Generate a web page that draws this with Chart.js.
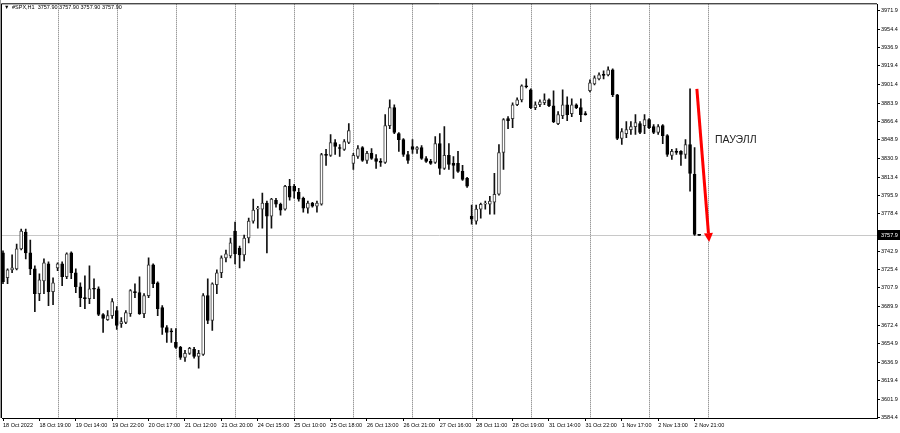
<!DOCTYPE html>
<html>
<head>
<meta charset="utf-8">
<script src="https://cdn.jsdelivr.net/npm/chart.js@4"></script>
<style>
  html, body { margin: 0; padding: 0; background: #fff; }
</style>
</head>
<body>
<canvas id="myChart" width="900" height="433"></canvas>
<script>
// #SPX H1 candles, 18 Oct 11:00 .. 2 Nov 22:00
const symbol = '#SPX,H1'
const lastPrice = 3757.9

const opens = [
  3741.2, 3717.5, 3725.1, 3726.0, 3745.0, 3761.1, 3741.2, 3726.0, 3702.4, 3714.6,
  3730.8, 3704.2, 3727.0, 3730.8, 3718.5, 3741.2, 3722.3, 3709.0, 3698.6, 3697.6,
  3707.1, 3707.1, 3682.5, 3677.7, 3681.5, 3686.2, 3673.9, 3674.9, 3683.4, 3704.2,
  3703.3, 3683.4, 3700.5, 3729.8, 3712.8, 3689.1, 3670.1, 3666.4, 3655.9, 3651.2,
  3641.7, 3645.5, 3649.3, 3642.6, 3644.5, 3700.5, 3676.8, 3710.9, 3722.3, 3736.5,
  3738.4, 3762.1, 3745.9, 3739.3, 3755.4, 3771.5, 3782.9, 3782.9, 3788.6, 3776.3,
  3791.4, 3787.6, 3782.9, 3804.7, 3804.7, 3799.0, 3793.3, 3783.8, 3788.6, 3785.7,
  3787.6, 3835.0, 3834.1, 3846.4, 3841.6, 3839.8, 3846.4, 3826.5, 3833.1, 3841.6,
  3829.3, 3836.0, 3831.2, 3828.4, 3827.4, 3862.5, 3879.6, 3854.9, 3849.2, 3835.0,
  3842.6, 3839.8, 3841.6, 3831.2, 3828.4, 3827.4, 3845.4, 3821.7, 3834.1, 3826.5,
  3826.5, 3818.9, 3812.3, 3776.3, 3771.5, 3782.9, 3787.6, 3787.6, 3789.5, 3797.1,
  3836.9, 3869.1, 3869.1, 3882.4, 3887.1, 3900.4, 3896.6, 3879.6, 3882.4, 3884.3,
  3887.1, 3881.4, 3864.4, 3872.0, 3882.4, 3873.9, 3882.4, 3879.6, 3873.9, 3895.7,
  3902.3, 3907.0, 3910.8, 3910.8, 3915.6, 3891.9, 3850.2, 3854.9, 3858.7, 3861.5,
  3864.4, 3862.5, 3868.2, 3861.5, 3855.9, 3862.5, 3853.0, 3834.1, 3837.9, 3837.9,
  3835.0, 3844.5, 3816.1, 3757.9
]
const highs = [
  3743.1, 3726.0, 3739.3, 3749.7, 3763.9, 3763.9, 3753.5, 3728.9, 3721.3, 3735.5,
  3732.7, 3717.5, 3731.7, 3732.7, 3741.2, 3742.2, 3726.0, 3712.8, 3719.4, 3728.9,
  3716.6, 3709.0, 3683.4, 3686.2, 3697.6, 3690.0, 3679.6, 3686.2, 3706.2, 3711.8,
  3718.5, 3702.4, 3736.5, 3730.8, 3713.7, 3691.0, 3672.0, 3669.2, 3669.2, 3652.1,
  3648.3, 3651.2, 3651.2, 3648.3, 3702.4, 3716.6, 3712.8, 3725.1, 3738.4, 3744.0,
  3755.4, 3770.6, 3747.8, 3758.3, 3774.4, 3792.4, 3785.7, 3798.1, 3790.5, 3793.3,
  3793.3, 3788.6, 3805.6, 3811.3, 3806.6, 3802.8, 3794.3, 3790.5, 3789.5, 3790.5,
  3836.0, 3839.8, 3854.0, 3849.2, 3844.5, 3849.2, 3864.4, 3836.0, 3843.5, 3842.6,
  3837.9, 3840.7, 3835.0, 3831.2, 3872.9, 3887.1, 3882.4, 3855.9, 3850.2, 3837.9,
  3849.2, 3842.6, 3843.5, 3833.1, 3830.3, 3852.1, 3854.9, 3861.5, 3845.4, 3833.1,
  3837.9, 3824.6, 3813.2, 3786.7, 3786.7, 3788.6, 3790.5, 3795.2, 3817.0, 3844.5,
  3869.1, 3871.0, 3884.3, 3889.0, 3901.3, 3907.0, 3897.6, 3885.2, 3887.1, 3892.8,
  3888.1, 3895.7, 3875.8, 3896.6, 3890.0, 3888.1, 3883.3, 3888.1, 3875.8, 3906.1,
  3909.9, 3912.7, 3914.6, 3918.4, 3916.5, 3892.3, 3859.7, 3866.3, 3866.3, 3872.9,
  3866.3, 3872.9, 3869.1, 3863.4, 3863.4, 3863.4, 3854.0, 3839.8, 3840.7, 3838.8,
  3849.2, 3897.6, 3841.6, 3757.9
]
const lows = [
  3711.8, 3711.8, 3722.3, 3725.1, 3744.0, 3735.5, 3720.4, 3685.3, 3695.7, 3702.4,
  3691.0, 3691.9, 3724.2, 3709.9, 3716.6, 3716.6, 3703.3, 3690.0, 3688.1, 3692.9,
  3697.6, 3681.5, 3665.4, 3676.8, 3678.7, 3668.2, 3670.1, 3673.9, 3680.6, 3698.6,
  3682.5, 3679.6, 3698.6, 3708.0, 3681.5, 3663.5, 3655.9, 3655.9, 3650.2, 3639.8,
  3637.9, 3644.5, 3640.8, 3631.3, 3643.6, 3673.9, 3667.3, 3702.4, 3717.5, 3732.7,
  3736.5, 3730.8, 3727.0, 3733.6, 3750.7, 3769.6, 3764.9, 3764.9, 3741.2, 3764.9,
  3784.8, 3777.2, 3782.0, 3791.4, 3793.3, 3790.5, 3780.1, 3779.1, 3784.8, 3780.1,
  3786.7, 3824.6, 3833.1, 3835.0, 3833.1, 3838.8, 3845.4, 3820.8, 3831.2, 3828.4,
  3826.5, 3830.3, 3821.7, 3823.6, 3826.5, 3859.7, 3854.9, 3837.9, 3833.1, 3826.5,
  3836.0, 3836.0, 3830.3, 3827.4, 3825.5, 3826.5, 3816.1, 3820.8, 3820.8, 3812.3,
  3818.0, 3810.4, 3803.7, 3768.7, 3768.7, 3774.4, 3782.9, 3778.2, 3778.2, 3796.2,
  3820.8, 3859.7, 3860.6, 3881.4, 3885.2, 3898.5, 3878.6, 3877.7, 3880.5, 3882.4,
  3880.5, 3865.3, 3863.4, 3869.1, 3867.2, 3871.0, 3878.6, 3866.3, 3872.4, 3894.7,
  3901.3, 3906.1, 3907.0, 3909.9, 3890.0, 3849.2, 3844.5, 3851.1, 3854.0, 3854.0,
  3854.9, 3854.9, 3859.7, 3854.9, 3854.0, 3845.4, 3833.1, 3830.3, 3835.0, 3824.6,
  3831.2, 3800.0, 3757.9, 3757.9
]
const closes = [
  3713.7, 3725.1, 3727.0, 3745.0, 3762.1, 3741.2, 3726.0, 3702.4, 3715.6, 3731.7,
  3704.2, 3712.8, 3730.8, 3718.5, 3740.3, 3722.3, 3709.0, 3698.6, 3697.6, 3707.1,
  3706.6, 3682.5, 3678.7, 3681.5, 3694.8, 3672.0, 3675.8, 3684.4, 3705.2, 3703.3,
  3683.4, 3700.5, 3729.8, 3711.8, 3688.1, 3670.1, 3665.4, 3665.9, 3651.2, 3641.7,
  3645.5, 3650.2, 3642.6, 3645.5, 3700.5, 3676.8, 3711.8, 3722.3, 3736.5, 3740.3,
  3750.7, 3740.3, 3739.3, 3755.4, 3771.5, 3782.0, 3783.8, 3788.6, 3776.3, 3792.4,
  3787.6, 3782.0, 3804.7, 3794.3, 3800.0, 3792.4, 3783.8, 3788.6, 3785.7, 3788.6,
  3835.0, 3834.1, 3846.4, 3842.6, 3840.7, 3847.3, 3857.8, 3834.1, 3840.7, 3829.3,
  3836.0, 3831.2, 3828.4, 3827.4, 3862.5, 3879.6, 3855.9, 3849.2, 3835.0, 3829.3,
  3839.8, 3841.6, 3831.2, 3828.4, 3826.5, 3845.4, 3821.7, 3834.1, 3825.5, 3824.6,
  3818.9, 3811.3, 3804.7, 3773.4, 3782.9, 3787.6, 3788.6, 3790.5, 3797.1, 3836.9,
  3868.2, 3867.2, 3882.4, 3887.1, 3900.4, 3899.5, 3879.6, 3882.4, 3885.2, 3887.1,
  3881.4, 3866.3, 3872.9, 3882.4, 3872.9, 3882.4, 3879.6, 3872.9, 3872.9, 3903.2,
  3908.0, 3910.8, 3910.3, 3915.6, 3891.9, 3850.2, 3856.8, 3858.7, 3861.5, 3865.3,
  3855.9, 3868.2, 3860.6, 3855.9, 3861.5, 3853.0, 3835.0, 3837.9, 3836.9, 3835.0,
  3844.5, 3817.0, 3758.9, 3757.9
]

// time axis: bar number of each label, and the day separators
const labelBars = [0, 8, 16, 24, 32, 40, 48, 56, 64, 72, 80, 88, 96, 104, 112, 120, 128, 136, 144, 152]
const labelTexts = [
  '18 Oct 2022', '18 Oct 19:00', '19 Oct 14:00', '19 Oct 22:00', '20 Oct 17:00',
  '21 Oct 12:00', '21 Oct 20:00', '24 Oct 15:00', '25 Oct 10:00', '25 Oct 18:00',
  '26 Oct 13:00', '26 Oct 21:00', '27 Oct 16:00', '28 Oct 11:00', '28 Oct 19:00',
  '31 Oct 14:00', '31 Oct 22:00', '1 Nov 17:00', '2 Nov 13:00', '2 Nov 21:00'
]
const dayBars = [12, 25, 38, 51, 64, 77, 90, 103, 116, 129, 142, 155]

const priceTicks = [
  3971.9, 3954.4, 3936.9, 3919.4, 3901.4, 3883.9, 3866.4, 3848.9, 3830.9, 3813.4,
  3795.9, 3778.4, 3742.9, 3725.4, 3707.9, 3689.9, 3672.4, 3654.9, 3636.9, 3619.4,
  3601.9, 3584.4
]

// hand-drawn objects on the chart (bar number, price)
const arrowFrom = [152.5, 3897.6]
const arrowTo = [155.2, 3751.6]
const noteAt = [156.5, 3848.3]
const noteText = 'ПАУЭЛЛ'

const FONT = '"Liberation Sans", Arial, sans-serif'
const bars = opens.map((_, i) => i)
const isUp = i => closes[i] > opens[i]

const overlay = {
  id: 'overlay',
  beforeDatasetsDraw(chart) {
    const { ctx, chartArea: a, scales: { x, y } } = chart
    ctx.save()
    ctx.lineWidth = 1
    ctx.strokeStyle = '#707070'
    ctx.setLineDash([1, 1])
    dayBars.forEach(b => {
      const px = Math.round(x.getPixelForValue(b)) + 0.5
      ctx.beginPath()
      ctx.moveTo(px, a.top)
      ctx.lineTo(px, a.bottom)
      ctx.stroke()
    })
    ctx.setLineDash([])
    const by = Math.round(y.getPixelForValue(lastPrice)) + 0.5
    ctx.strokeStyle = '#c8c8c8'
    ctx.beginPath()
    ctx.moveTo(a.left, by)
    ctx.lineTo(a.right, by)
    ctx.stroke()
    ctx.restore()
  },
  afterDraw(chart) {
    const { ctx, chartArea: a, scales: { x, y } } = chart
    ctx.save()
    // frame
    ctx.strokeStyle = '#000'
    ctx.lineWidth = 1
    ctx.beginPath()
    ctx.moveTo(a.left - 0.5, a.bottom)
    ctx.lineTo(a.left - 0.5, a.top - 0.5)
    ctx.lineTo(a.right, a.top - 0.5)
    ctx.stroke()
    ctx.strokeStyle = '#9a9a9a'
    ctx.beginPath()
    ctx.moveTo(0.5, 0)
    ctx.lineTo(0.5, a.bottom)
    ctx.stroke()

    // title
    ctx.fillStyle = '#000'
    ctx.font = '5.5px ' + FONT
    ctx.textBaseline = 'middle'
    ctx.textAlign = 'left'
    ctx.fillText('▼', 4, 7)
    const p = lastPrice.toFixed(2)
    ctx.fillText(symbol + '  ' + [p, p, p, p].join(' '), 12, 7)

    // current price box
    const by = Math.round(y.getPixelForValue(lastPrice))
    ctx.fillStyle = '#000'
    ctx.fillRect(a.right + 1, by - 5, chart.width - a.right - 1, 10)
    ctx.fillStyle = '#fff'
    ctx.fillText(lastPrice.toFixed(1), a.right + 4, by + 0.5)

    // arrow
    const x1 = x.getPixelForValue(arrowFrom[0]), y1 = y.getPixelForValue(arrowFrom[1])
    const x2 = x.getPixelForValue(arrowTo[0]), y2 = y.getPixelForValue(arrowTo[1])
    const ang = Math.atan2(y2 - y1, x2 - x1)
    const head = 9, hw = 4.5
    const bx = x2 - head * Math.cos(ang), byy = y2 - head * Math.sin(ang)
    ctx.strokeStyle = '#ff0000'
    ctx.fillStyle = '#ff0000'
    ctx.lineWidth = 3
    ctx.beginPath()
    ctx.moveTo(x1, y1)
    ctx.lineTo(bx, byy)
    ctx.stroke()
    ctx.beginPath()
    ctx.moveTo(x2, y2)
    ctx.lineTo(bx + hw * Math.sin(ang), byy - hw * Math.cos(ang))
    ctx.lineTo(bx - hw * Math.sin(ang), byy + hw * Math.cos(ang))
    ctx.closePath()
    ctx.fill()

    // note
    ctx.fillStyle = '#222'
    ctx.font = '10.5px ' + FONT
    ctx.fillText(noteText, x.getPixelForValue(noteAt[0]), y.getPixelForValue(noteAt[1]))
    ctx.restore()
  }
}

const ctx = document.getElementById('myChart').getContext('2d')
const myChart = new Chart(ctx, {
  type: 'bar',
  data: {
    datasets: [
      {
        label: 'wicks',
        data: bars.map(i => ({ x: i, y: [lows[i], highs[i]] })),
        backgroundColor: '#111',
        borderWidth: 0,
        barThickness: 1,
        minBarLength: 1,
        grouped: false,
        order: 2
      },
      {
        label: 'bodies',
        data: bars.map(i => ({ x: i, y: [opens[i], closes[i]] })),
        backgroundColor: c => isUp(c.dataIndex) ? '#fff' : '#000',
        borderColor: c => isUp(c.dataIndex) ? '#3a3a3a' : '#000',
        borderWidth: 1,
        borderSkipped: false,
        barThickness: 3,
        minBarLength: 1,
        grouped: false,
        order: 1
      }
    ]
  },
  options: {
    responsive: false,
    animation: false,
    devicePixelRatio: 1,
    layout: { padding: { left: 2, top: 2, right: 0, bottom: 0 } },
    plugins: { legend: { display: false }, tooltip: { enabled: false } },
    scales: {
      x: {
        type: 'linear',
        position: 'bottom',
        offset: false,
        min: -0.22,
        max: 192.09,
        afterBuildTicks: axis => { axis.ticks = labelBars.map(v => ({ value: v })) },
        afterFit: axis => { axis.height = 15 },
        ticks: {
          autoSkip: false,
          maxRotation: 0,
          align: 'start',
          padding: 1,
          color: '#000',
          font: { size: 5.5, family: FONT },
          callback: (v, i) => labelTexts[i]
        },
        grid: { offset: false, drawOnChartArea: false, drawTicks: true, tickLength: 3, color: '#000' },
        border: { color: '#000' }
      },
      y: {
        type: 'linear',
        position: 'right',
        min: 3583.9,
        max: 3978.1,
        afterBuildTicks: axis => { axis.ticks = priceTicks.map(v => ({ value: v })) },
        afterFit: axis => { axis.width = 23 },
        ticks: {
          autoSkip: false,
          padding: 1,
          color: '#000',
          font: { size: 5.5, family: FONT },
          callback: v => v.toFixed(1)
        },
        grid: { drawOnChartArea: false, drawTicks: true, tickLength: 3, color: '#000' },
        border: { color: '#000' }
      }
    }
  },
  plugins: [overlay]
})
</script>
</body>
</html>
